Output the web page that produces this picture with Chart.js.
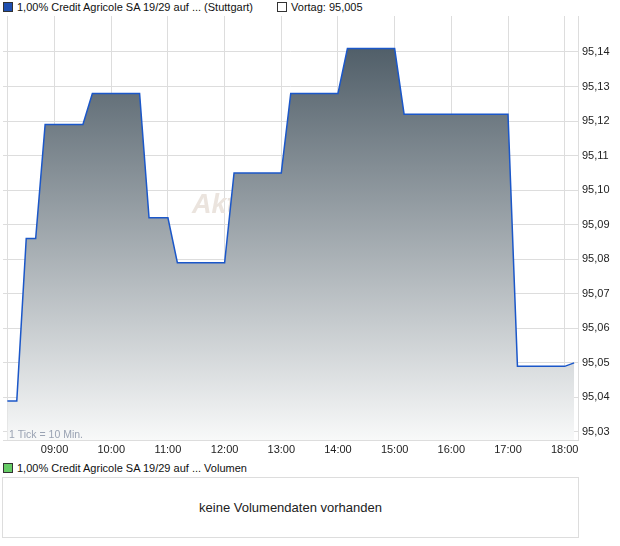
<!DOCTYPE html>
<html>
<head>
<meta charset="utf-8">
<script src="https://cdn.jsdelivr.net/npm/chart.js@4"></script>
<style>
    body { margin: 0; background: #fff; font-family: "Liberation Sans", Arial, sans-serif; }
    #wrap { position: relative; width: 620px; height: 546px; }
    #chart_box { position: absolute; left: 0; top: 0; width: 620px; height: 460px; }
    .legend { position: absolute; left: 3px; font-size: 11px; color: #111; white-space: nowrap; }
    .sq { display: inline-block; width: 8px; height: 8px; border: 1px solid #333; vertical-align: -1px; margin-right: 4px; }
    #vol_box { position: absolute; left: 2px; top: 477px; width: 575px; height: 59px; border: 1px solid #ddd;
               font-size: 13px; color: #222; text-align: center; line-height: 59px; }
</style>
</head>
<body>
<div id="wrap">
    <div class="legend" style="top:1px"><span class="sq" style="background:#1f4fb0"></span>1,00% Credit Agricole SA 19/29 auf ... (Stuttgart)<span style="display:inline-block;width:24px"></span><span class="sq" style="background:#fff"></span>Vortag: 95,005</div>
    <div id="chart_box"><canvas id="price_chart" width="620" height="460"></canvas></div>
    <div class="legend" style="top:462px"><span class="sq" style="background:#66cc66"></span>1,00% Credit Agricole SA 19/29 auf ... Volumen</div>
    <div id="vol_box">keine Volumendaten vorhanden</div>
</div>
<script>
// price points (10 min ticks), only where the course changes
const times = ["08:10", "08:20", "08:30", "08:40", "08:50", "09:30", "09:40", "10:30", "10:40", "11:00", "11:10", "12:00",
    "12:10", "13:00", "13:10", "14:00", "14:10", "15:00", "15:10", "17:00", "17:10", "18:00", "18:10"];
const prices = [95.039, 95.039, 95.086, 95.086, 95.119, 95.119, 95.128, 95.128, 95.092, 95.092, 95.079, 95.079,
    95.105, 95.105, 95.128, 95.128, 95.141, 95.141, 95.122, 95.122, 95.049, 95.049, 95.050];
const xTicks = ["08:10", "09:00", "10:00", "11:00", "12:00", "13:00", "14:00", "15:00", "16:00", "17:00", "18:00"];
const yTicks = [95.03, 95.04, 95.05, 95.06, 95.07, 95.08, 95.09, 95.10, 95.11, 95.12, 95.13, 95.14];

const toMin = (t) => {
    const p = t.split(":");
    return parseInt(p[0], 10) * 60 + parseInt(p[1], 10);
};
const pad2 = (n) => (n < 10 ? "0" : "") + n;

const fontName = "'Liberation Sans', Arial, sans-serif";

// watermark sits under the fill, tick note sits above it
const extras = {
    id: "extras",
    beforeDatasetsDraw(chart) {
        const ctx = chart.ctx;
        ctx.save();
        ctx.font = "italic bold 27px " + fontName;
        ctx.fillStyle = "#ebe4de";
        ctx.textBaseline = "alphabetic";
        ctx.fillText("Aktiencheck", 192, 213);
        ctx.restore();
    },
    afterDatasetsDraw(chart) {
        const ctx = chart.ctx;
        const a = chart.chartArea;
        ctx.save();
        ctx.font = "10.5px " + fontName;
        ctx.fillStyle = "#9aa3b3";
        ctx.fillText("1 Tick = 10 Min.", 9, a.bottom - 2);
        ctx.restore();
    },
};

const ctx = document.getElementById("price_chart").getContext("2d");
new Chart(ctx, {
    type: "line",
    data: {
        datasets: [
            {
                data: times.map((t, i) => ({x: toMin(t), y: prices[i]})),
                borderColor: "#1b57c9",
                borderWidth: 1.5,
                pointRadius: 0,
                tension: 0,
                fill: "start",
                backgroundColor: (c) => {
                    const a = c.chart.chartArea;
                    if (!a) return "#999";
                    const g = c.chart.ctx.createLinearGradient(0, a.top, 0, a.bottom);
                    g.addColorStop(0, "#43525d");
                    g.addColorStop(1, "#f8f9f9");
                    return g;
                },
            },
        ],
    },
    options: {
        responsive: false,
        animation: false,
        layout: {padding: {left: 3, top: 16, right: 0, bottom: 0}},
        plugins: {legend: {display: false}, tooltip: {enabled: false}},
        scales: {
            x: {
                type: "linear",
                min: 485.4,
                max: 1094.1,
                afterBuildTicks: (s) => { s.ticks = xTicks.map((t) => ({value: toMin(t)})); },
                afterFit: (s) => { s.height = 20; },
                ticks: {
                    autoSkip: false,
                    maxRotation: 0,
                    padding: 3,
                    color: "#222",
                    font: {family: fontName, size: 11},
                    callback: (v) => (v < 540 ? "" : pad2(Math.floor(v / 60)) + ":" + pad2(v % 60)),
                },
                grid: {color: "#dddddd", drawTicks: false},
                border: {color: "#dddddd"},
            },
            y: {
                position: "right",
                min: 95.02768,
                max: 95.15042,
                afterBuildTicks: (s) => { s.ticks = yTicks.map((v) => ({value: v})); },
                afterFit: (s) => { s.width = 42; },
                ticks: {
                    padding: 4,
                    color: "#222",
                    font: {family: fontName, size: 11},
                    callback: (v) => v.toFixed(2).replace(".", ","),
                },
                grid: {color: "#dddddd", drawTicks: false},
                border: {color: "#dddddd"},
            },
        },
    },
    plugins: [extras],
});
</script>
</body>
</html>
